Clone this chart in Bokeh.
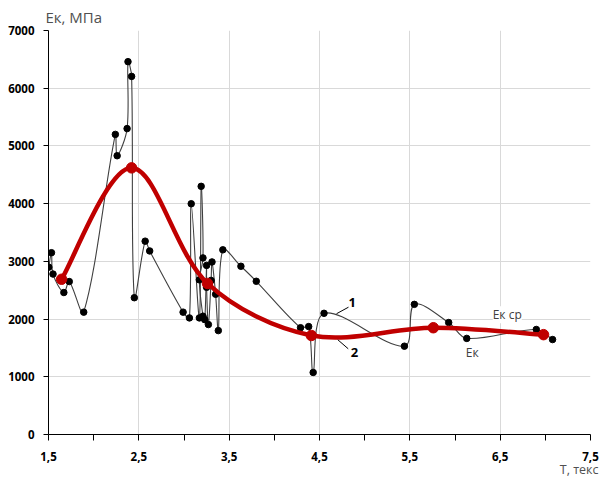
import math
from bokeh.plotting import figure
from bokeh.models import ColumnDataSource, FixedTicker, Label, Segment, Title
from bokeh.embed import file_html
from bokeh.resources import INLINE

# ---- data ----
ek_x = [1.503, 1.533, 1.55, 1.67, 1.73, 1.89, 2.24, 2.26, 2.37, 2.38, 2.42, 2.45,
        2.57, 2.62, 2.99, 3.06, 3.08, 3.17, 3.19, 3.21, 3.17, 3.21, 3.23, 3.25,
        3.25, 3.27, 3.30, 3.31, 3.35, 3.38, 3.43, 3.63, 3.80, 4.29, 4.38, 4.43,
        4.55, 5.44, 5.55, 5.93, 6.13, 6.90, 7.08]
ek_y = [2900, 3150, 2780, 2460, 2650, 2120, 5200, 4830, 5300, 6460, 6205, 2370,
        3350, 3180, 2120, 2020, 3998, 2020, 4300, 3060, 2680, 2050, 1990, 2930,
        2550, 1905, 2670, 2990, 2430, 1800, 3200, 2915, 2655, 1850, 1870, 1075,
        2100, 1530, 2255, 1940, 1665, 1820, 1645]

ekcp_x = [1.645, 2.42, 3.26, 4.41, 5.76, 6.98]
ekcp_y = [2690, 4620, 2617, 1716, 1850, 1730]

x_ticks = [1.5, 2.5, 3.5, 4.5, 5.5, 6.5, 7.5]
x_tick_labels = ["1,5", "2,5", "3,5", "4,5", "5,5", "6,5", "7,5"]
x_minor = [2.0, 3.0, 4.0, 5.0, 6.0, 7.0]
y_ticks = [0, 1000, 2000, 3000, 4000, 5000, 6000, 7000]

FRAME_W, FRAME_H = 542, 404
X0, X1, Y0, Y1 = 1.5, 7.5, 0, 7000
SX = FRAME_W / (X1 - X0)
SY = FRAME_H / (Y1 - Y0)


def smooth_segments(xs, ys):
    """Excel-like smoothed line: Bezier control points scaled by segment lengths."""
    n = len(xs)
    px = [x * SX for x in xs]
    py = [y * SY for y in ys]

    def dist(a, b):
        return math.hypot(px[a] - px[b], py[a] - py[b]) or 1e-9

    d = dict(x0=[], y0=[], x1=[], y1=[], cx0=[], cy0=[], cx1=[], cy1=[])
    for i in range(n - 1):
        im = max(i - 1, 0)
        ip = min(i + 2, n - 1)
        d12 = dist(i, i + 1)
        d01 = dist(im, i) if im != i else d12
        d23 = dist(i + 1, ip) if ip != i + 1 else d12
        f1 = (1 / 3) * d12 / (d01 + d12)
        f2 = (1 / 3) * d12 / (d12 + d23)
        d["x0"].append(xs[i]); d["y0"].append(ys[i])
        d["x1"].append(xs[i + 1]); d["y1"].append(ys[i + 1])
        d["cx0"].append(xs[i] + (xs[i + 1] - xs[im]) * f1)
        d["cy0"].append(ys[i] + (ys[i + 1] - ys[im]) * f1)
        d["cx1"].append(xs[i + 1] - (xs[ip] - xs[i]) * f2)
        d["cy1"].append(ys[i + 1] - (ys[ip] - ys[i]) * f2)
    return ColumnDataSource(d)


p = figure(frame_width=FRAME_W, frame_height=FRAME_H, x_range=(X0, X1), y_range=(Y0, Y1),
           output_backend="svg", toolbar_location=None,
           min_border_left=48, min_border_right=10, min_border_top=30, min_border_bottom=47)
p.outline_line_color = None
p.background_fill_color = "white"
p.border_fill_color = "white"

font = "Open Sans"

# y-axis title as a left-aligned title above the frame
p.title.text = "Ек, МПа"
p.title.align = "left"
p.title.offset = -3
p.title.standoff = 8
p.title.text_font = font
p.title.text_font_size = "15px"
p.title.text_font_style = "normal"
p.title.text_color = "#505050"

for ax in (p.xaxis[0], p.yaxis[0]):
    ax.axis_line_color = "black"
    ax.axis_line_width = 1
    ax.major_tick_line_color = "black"
    ax.minor_tick_line_color = "black"
    ax.major_tick_in = 0
    ax.minor_tick_in = 0
    ax.major_label_text_font = font
    ax.major_label_text_font_style = "bold"
    ax.major_label_text_font_size = "11.5px"
    ax.major_label_text_color = "black"

p.xaxis.ticker = FixedTicker(ticks=x_ticks, minor_ticks=x_minor)
p.xaxis.major_label_overrides = dict(zip(x_ticks, x_tick_labels))
p.xaxis.major_tick_out = 6
p.xaxis.minor_tick_out = 6
p.xaxis.major_label_standoff = 11

p.yaxis.ticker = FixedTicker(ticks=y_ticks, minor_ticks=[])
p.yaxis.major_tick_out = 5
p.yaxis.major_label_standoff = 9

p.xgrid.ticker = FixedTicker(ticks=x_ticks)
p.xgrid.grid_line_color = "#d9d9d9"
p.ygrid.grid_line_color = "#d9d9d9"

# x-axis title, right-aligned below the axis
xt = Title(text="T, текс", align="right", offset=-8, standoff=-9,
           text_font=font, text_font_size="12.5px", text_font_style="normal",
           text_color="#505050")
p.add_layout(xt, "below")

# black series Ек
src_k = smooth_segments(ek_x, ek_y)
p.bezier(x0="x0", y0="y0", x1="x1", y1="y1", cx0="cx0", cy0="cy0", cx1="cx1", cy1="cy1",
         source=src_k, line_color="#404040", line_width=1.1)
p.scatter(ek_x, ek_y, size=6.5, color="black")

# red series Ек ср
src_r = smooth_segments(ekcp_x, ekcp_y)
p.bezier(x0="x0", y0="y0", x1="x1", y1="y1", cx0="cx0", cy0="cy0", cx1="cx1", cy1="cy1",
         source=src_r, line_color="#c00000", line_width=4.5)
p.scatter(ekcp_x, ekcp_y, size=10.5, color="#c00000")

# leader lines and numbers
lead_x0 = [4.821, 4.818]
lead_y0 = [2206, 1485]
lead_x1 = [4.688, 4.703]
lead_y1 = [2092, 1641]
p.add_glyph(ColumnDataSource(dict(x0=lead_x0, y0=lead_y0, x1=lead_x1, y1=lead_y1)),
            Segment(x0="x0", y0="y0", x1="x1", y1="y1", line_color="black", line_width=1))
p.add_layout(Label(x=4.862, y=2282, text="1", text_font=font, text_font_style="bold",
                   text_font_size="13px", text_color="black",
                   text_align="center", text_baseline="middle"))
p.add_layout(Label(x=4.888, y=1416, text="2", text_font=font, text_font_style="bold",
                   text_font_size="13px", text_color="black",
                   text_align="center", text_baseline="middle"))

p.add_layout(Label(x=6.578, y=2075, text="Ек ср", text_font=font, text_font_size="12px",
                   text_color="#404040", text_align="center", text_baseline="middle",
                   background_fill_color="white"))
p.add_layout(Label(x=6.19, y=1426, text="Ек", text_font=font, text_font_size="12px",
                   text_color="#404040", text_align="center", text_baseline="middle",
                   background_fill_color="white"))

open("out.html", "w").write(file_html(p, INLINE))
